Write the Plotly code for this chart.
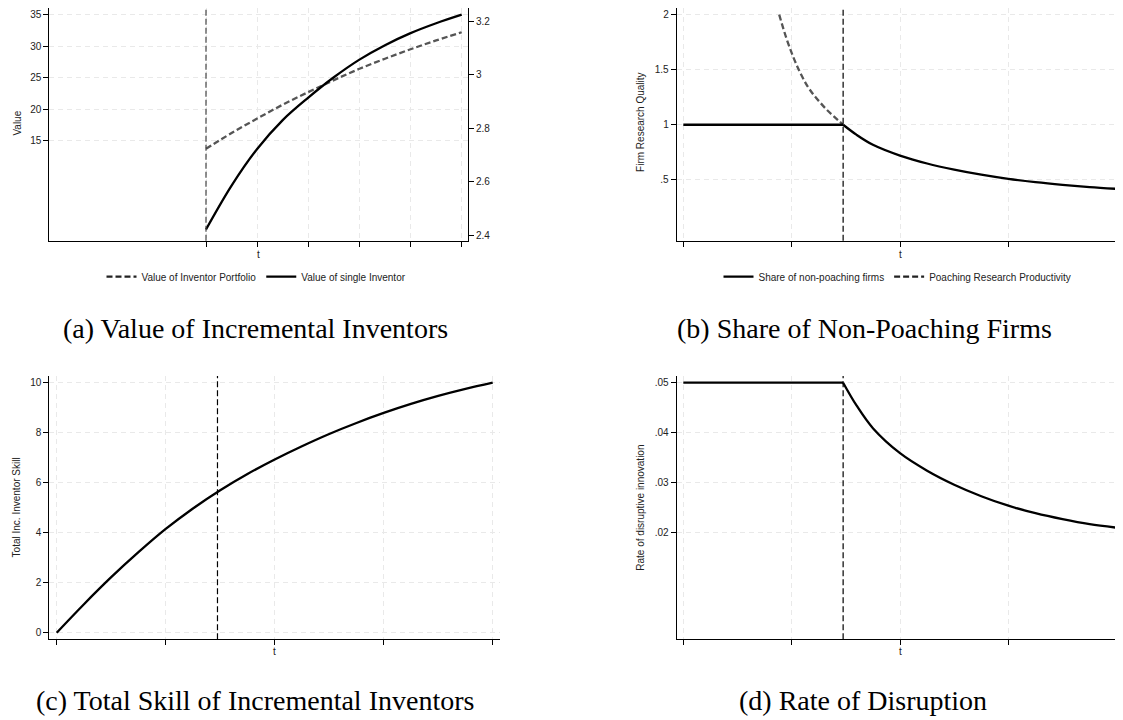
import plotly.graph_objects as go

# page is 1123x720; the browser body has an 8px margin, so the figure is 8px smaller
PAGE_W, PAGE_H = 1123, 720
OFF = 8
W, H = PAGE_W - OFF, PAGE_H - OFF

# ---------------- data ----------------
# (a) Value of Incremental Inventors
a_event = 30
a_t = [30, 35, 40, 45, 50, 55, 60, 65, 70, 75, 80]
a_portfolio = [13.7, 16.2, 18.5, 20.7, 22.7, 24.6, 26.4, 28.0, 29.5, 30.9, 32.2]
a_single = [2.421, 2.585, 2.722, 2.830, 2.914, 2.990, 3.056, 3.110, 3.155, 3.192, 3.224]
a_left_ticks = [15, 20, 25, 30, 35]
a_right_ticks = [2.4, 2.6, 2.8, 3.0, 3.2]
a_right_labels = ["2.4", "2.6", "2.8", "3", "3.2"]
a_x_ticks = [30, 40, 50, 60, 70, 80]

# (b) Share of Non-Poaching Firms
event_t = 29.5
b_flat_t = [0, 29.5]
b_flat = [1.0, 1.0]
b_decay_t = [29.5, 32, 35, 40, 45, 50, 55, 60, 65, 70, 75, 80]
b_share = [1.0, 0.908, 0.818, 0.72, 0.648, 0.592, 0.546, 0.508, 0.478, 0.454, 0.434, 0.418]
b_poach_t = [17.7, 19.0, 20.3, 21.5, 22.8, 24.0, 25.2, 26.5, 27.7, 29.5]
b_poach = [2.0, 1.79, 1.615, 1.48, 1.36, 1.275, 1.205, 1.135, 1.08, 1.0]
b_y_ticks = [0.5, 1.0, 1.5, 2.0]
b_y_labels = [".5", "1", "1.5", "2"]

# (c) Total Skill of Incremental Inventors
c_t = [0, 5, 10, 15, 20, 25, 30, 35, 40, 45, 50, 55, 60, 65, 70, 75, 80]
c_skill = [0, 1.14, 2.22, 3.22, 4.15, 4.97, 5.70, 6.35, 6.93, 7.46, 7.95, 8.39, 8.79, 9.15, 9.47, 9.75, 10.0]
c_y_ticks = [0, 2, 4, 6, 8, 10]

# (d) Rate of Disruption
d_flat_t = [0, 29.5]
d_flat = [0.05, 0.05]
d_decay_t = [29.5, 32, 35, 40, 45, 50, 55, 60, 65, 70, 75, 80]
d_rate = [0.05, 0.0454, 0.0409, 0.0359, 0.0324, 0.0296, 0.0273, 0.0254, 0.0239, 0.0227, 0.0217, 0.0210]
d_y_ticks = [0.02, 0.03, 0.04, 0.05]
d_y_labels = [".02", ".03", ".04", ".05"]

bcd_x_ticks = [0, 20, 40, 60, 80]

# ---------------- styling ----------------
SANS = "Liberation Sans, Arial, sans-serif"
SERIF = "Liberation Serif, Times New Roman, serif"
GRAY = "#555555"
LW = 2.3
DASH = "6px,3px"

fig = go.Figure()

# (a)
fig.add_trace(go.Scatter(x=a_t, y=a_portfolio, mode="lines", line=dict(color=GRAY, width=LW, dash=DASH, shape="spline"),
                         xaxis="x", yaxis="y", showlegend=False, hoverinfo="skip"))
fig.add_trace(go.Scatter(x=a_t, y=a_single, mode="lines", line=dict(color="black", width=LW, shape="spline"),
                         xaxis="x", yaxis="y2", showlegend=False, hoverinfo="skip"))
fig.add_trace(go.Scatter(x=[None], y=[None], mode="lines", line=dict(color="#222222", width=LW, dash=DASH),
                         name="Value of Inventor Portfolio", xaxis="x", yaxis="y", legend="legend"))
fig.add_trace(go.Scatter(x=[None], y=[None], mode="lines", line=dict(color="black", width=LW),
                         name="Value of single Inventor", xaxis="x", yaxis="y", legend="legend"))

# (b)
fig.add_trace(go.Scatter(x=b_poach_t, y=b_poach, mode="lines", line=dict(color=GRAY, width=LW, dash=DASH, shape="spline"),
                         xaxis="x2", yaxis="y3", showlegend=False, hoverinfo="skip"))
fig.add_trace(go.Scatter(x=b_flat_t, y=b_flat, mode="lines", line=dict(color="black", width=LW),
                         xaxis="x2", yaxis="y3", showlegend=False, hoverinfo="skip"))
fig.add_trace(go.Scatter(x=b_decay_t, y=b_share, mode="lines", line=dict(color="black", width=LW, shape="spline"),
                         xaxis="x2", yaxis="y3", showlegend=False, hoverinfo="skip"))
fig.add_trace(go.Scatter(x=[None], y=[None], mode="lines", line=dict(color="black", width=LW),
                         name="Share of non-poaching firms", xaxis="x2", yaxis="y3", legend="legend2"))
fig.add_trace(go.Scatter(x=[None], y=[None], mode="lines", line=dict(color="#222222", width=LW, dash=DASH),
                         name="Poaching Research Productivity", xaxis="x2", yaxis="y3", legend="legend2"))

# (c)
fig.add_trace(go.Scatter(x=c_t, y=c_skill, mode="lines", line=dict(color="black", width=LW, shape="spline"),
                         xaxis="x3", yaxis="y4", showlegend=False, hoverinfo="skip"))

# (d)
fig.add_trace(go.Scatter(x=d_flat_t, y=d_flat, mode="lines", line=dict(color="black", width=LW),
                         xaxis="x4", yaxis="y5", showlegend=False, hoverinfo="skip"))
fig.add_trace(go.Scatter(x=d_decay_t, y=d_rate, mode="lines", line=dict(color="black", width=LW, shape="spline"),
                         xaxis="x4", yaxis="y5", showlegend=False, hoverinfo="skip"))


def px_x(v):
    return (v - OFF) / W


def px_y(v):
    return 1 - (v - OFF) / H


axis_common = dict(showline=True, linecolor="black", linewidth=1, ticks="outside", ticklen=5, tickwidth=1,
                   tickcolor="black", showgrid=True, gridcolor="#e9e9e9", gridwidth=1, griddash="5px,4px",
                   zeroline=False, tickfont=dict(family=SANS, size=10, color="#222222"), fixedrange=True)
x_common = dict(axis_common, showticklabels=False)

top_dom = [px_y(240.7), min(1.0, px_y(5))]
bot_dom = [px_y(639.3), px_y(376)]

fig.update_layout(
    width=W, height=H, margin=dict(l=0, r=0, t=0, b=0, pad=0), autosize=False,
    paper_bgcolor="white", plot_bgcolor="white",
    xaxis=dict(x_common, domain=[px_x(49.3), px_x(468)], range=[-0.64, 81.23], tickvals=a_x_ticks, anchor="y"),
    yaxis=dict(axis_common, domain=top_dom, range=[-0.89, 36.05], tickvals=a_left_ticks, anchor="x"),
    yaxis2=dict(axis_common, overlaying="y", side="right", anchor="x", range=[2.379, 3.249], tickvals=a_right_ticks,
                ticktext=a_right_labels, showgrid=False),
    xaxis2=dict(x_common, domain=[px_x(676.7), 1.0], range=[-1.22, 81.16], tickvals=bcd_x_ticks, anchor="y3"),
    yaxis3=dict(axis_common, domain=top_dom, range=[-0.053, 2.06], tickvals=b_y_ticks,
                ticktext=b_y_labels, anchor="x2"),
    xaxis3=dict(x_common, domain=[px_x(49.3), px_x(500)], range=[-1.36, 81.34], tickvals=bcd_x_ticks, anchor="y4"),
    yaxis4=dict(axis_common, domain=bot_dom, range=[-0.264, 10.268], tickvals=c_y_ticks, anchor="x3"),
    xaxis4=dict(x_common, domain=[px_x(676.7), 1.0], range=[-1.22, 81.16], tickvals=bcd_x_ticks, anchor="y5"),
    yaxis5=dict(axis_common, domain=bot_dom, range=[-0.00132, 0.05134], tickvals=d_y_ticks, ticktext=d_y_labels, anchor="x4"),
    legend=dict(orientation="h", x=px_x(256.5), xanchor="center", y=px_y(276.7), yanchor="middle",
                font=dict(family=SANS, size=10, color="#222222"), bgcolor="rgba(0,0,0,0)", itemwidth=30,
                traceorder="normal"),
    legend2=dict(orientation="h", x=px_x(897.5), xanchor="center", y=px_y(276.7), yanchor="middle",
                 font=dict(family=SANS, size=10, color="#222222"), bgcolor="rgba(0,0,0,0)", itemwidth=30,
                 traceorder="normal"),
)

# event lines
fig.add_shape(type="line", xref="x", yref="y domain", x0=a_event, x1=a_event, y0=0, y1=1,
              line=dict(color="#444444", width=1.2, dash=DASH))
for xr, yr in [("x2", "y3"), ("x3", "y4"), ("x4", "y5")]:
    fig.add_shape(type="line", xref=xr, yref=yr + " domain", x0=event_t, x1=event_t, y0=0, y1=1,
                  line=dict(color="black", width=1.2, dash=DASH))

annots = []
# y-axis titles
for txt, x, y in [("Value", 17.7, 122.9), ("Firm Research Quality", 641, 122.9),
                  ("Total Inc. Inventor Skill", 16.7, 507.7), ("Rate of disruptive innovation", 641, 507.7)]:
    annots.append(dict(text=txt, x=px_x(x), y=px_y(y), xref="paper", yref="paper", showarrow=False,
                       textangle=-90, xanchor="center", yanchor="middle",
                       font=dict(family=SANS, size=10, color="#222222")))
# x-axis titles
for x, y in [(258.7, 254), (900, 254), (274.6, 651.7), (900, 651.7)]:
    annots.append(dict(text="t", x=px_x(x), y=px_y(y), xref="paper", yref="paper", showarrow=False,
                       xanchor="center", yanchor="middle", font=dict(family=SANS, size=10, color="#222222")))
# panel captions
for txt, x, y in [("(a) Value of Incremental Inventors", 255.5, 328),
                  ("(b) Share of Non-Poaching Firms", 864, 328),
                  ("(c) Total Skill of Incremental Inventors", 254.5, 700),
                  ("(d) Rate of Disruption", 863, 700)]:
    annots.append(dict(text=txt, x=px_x(x), y=px_y(y), xref="paper", yref="paper", showarrow=False,
                       xanchor="center", yanchor="middle", font=dict(family=SERIF, size=28, color="black")))
fig.update_layout(annotations=annots)

fig.write_html("out.html", config={"displayModeBar": False})
